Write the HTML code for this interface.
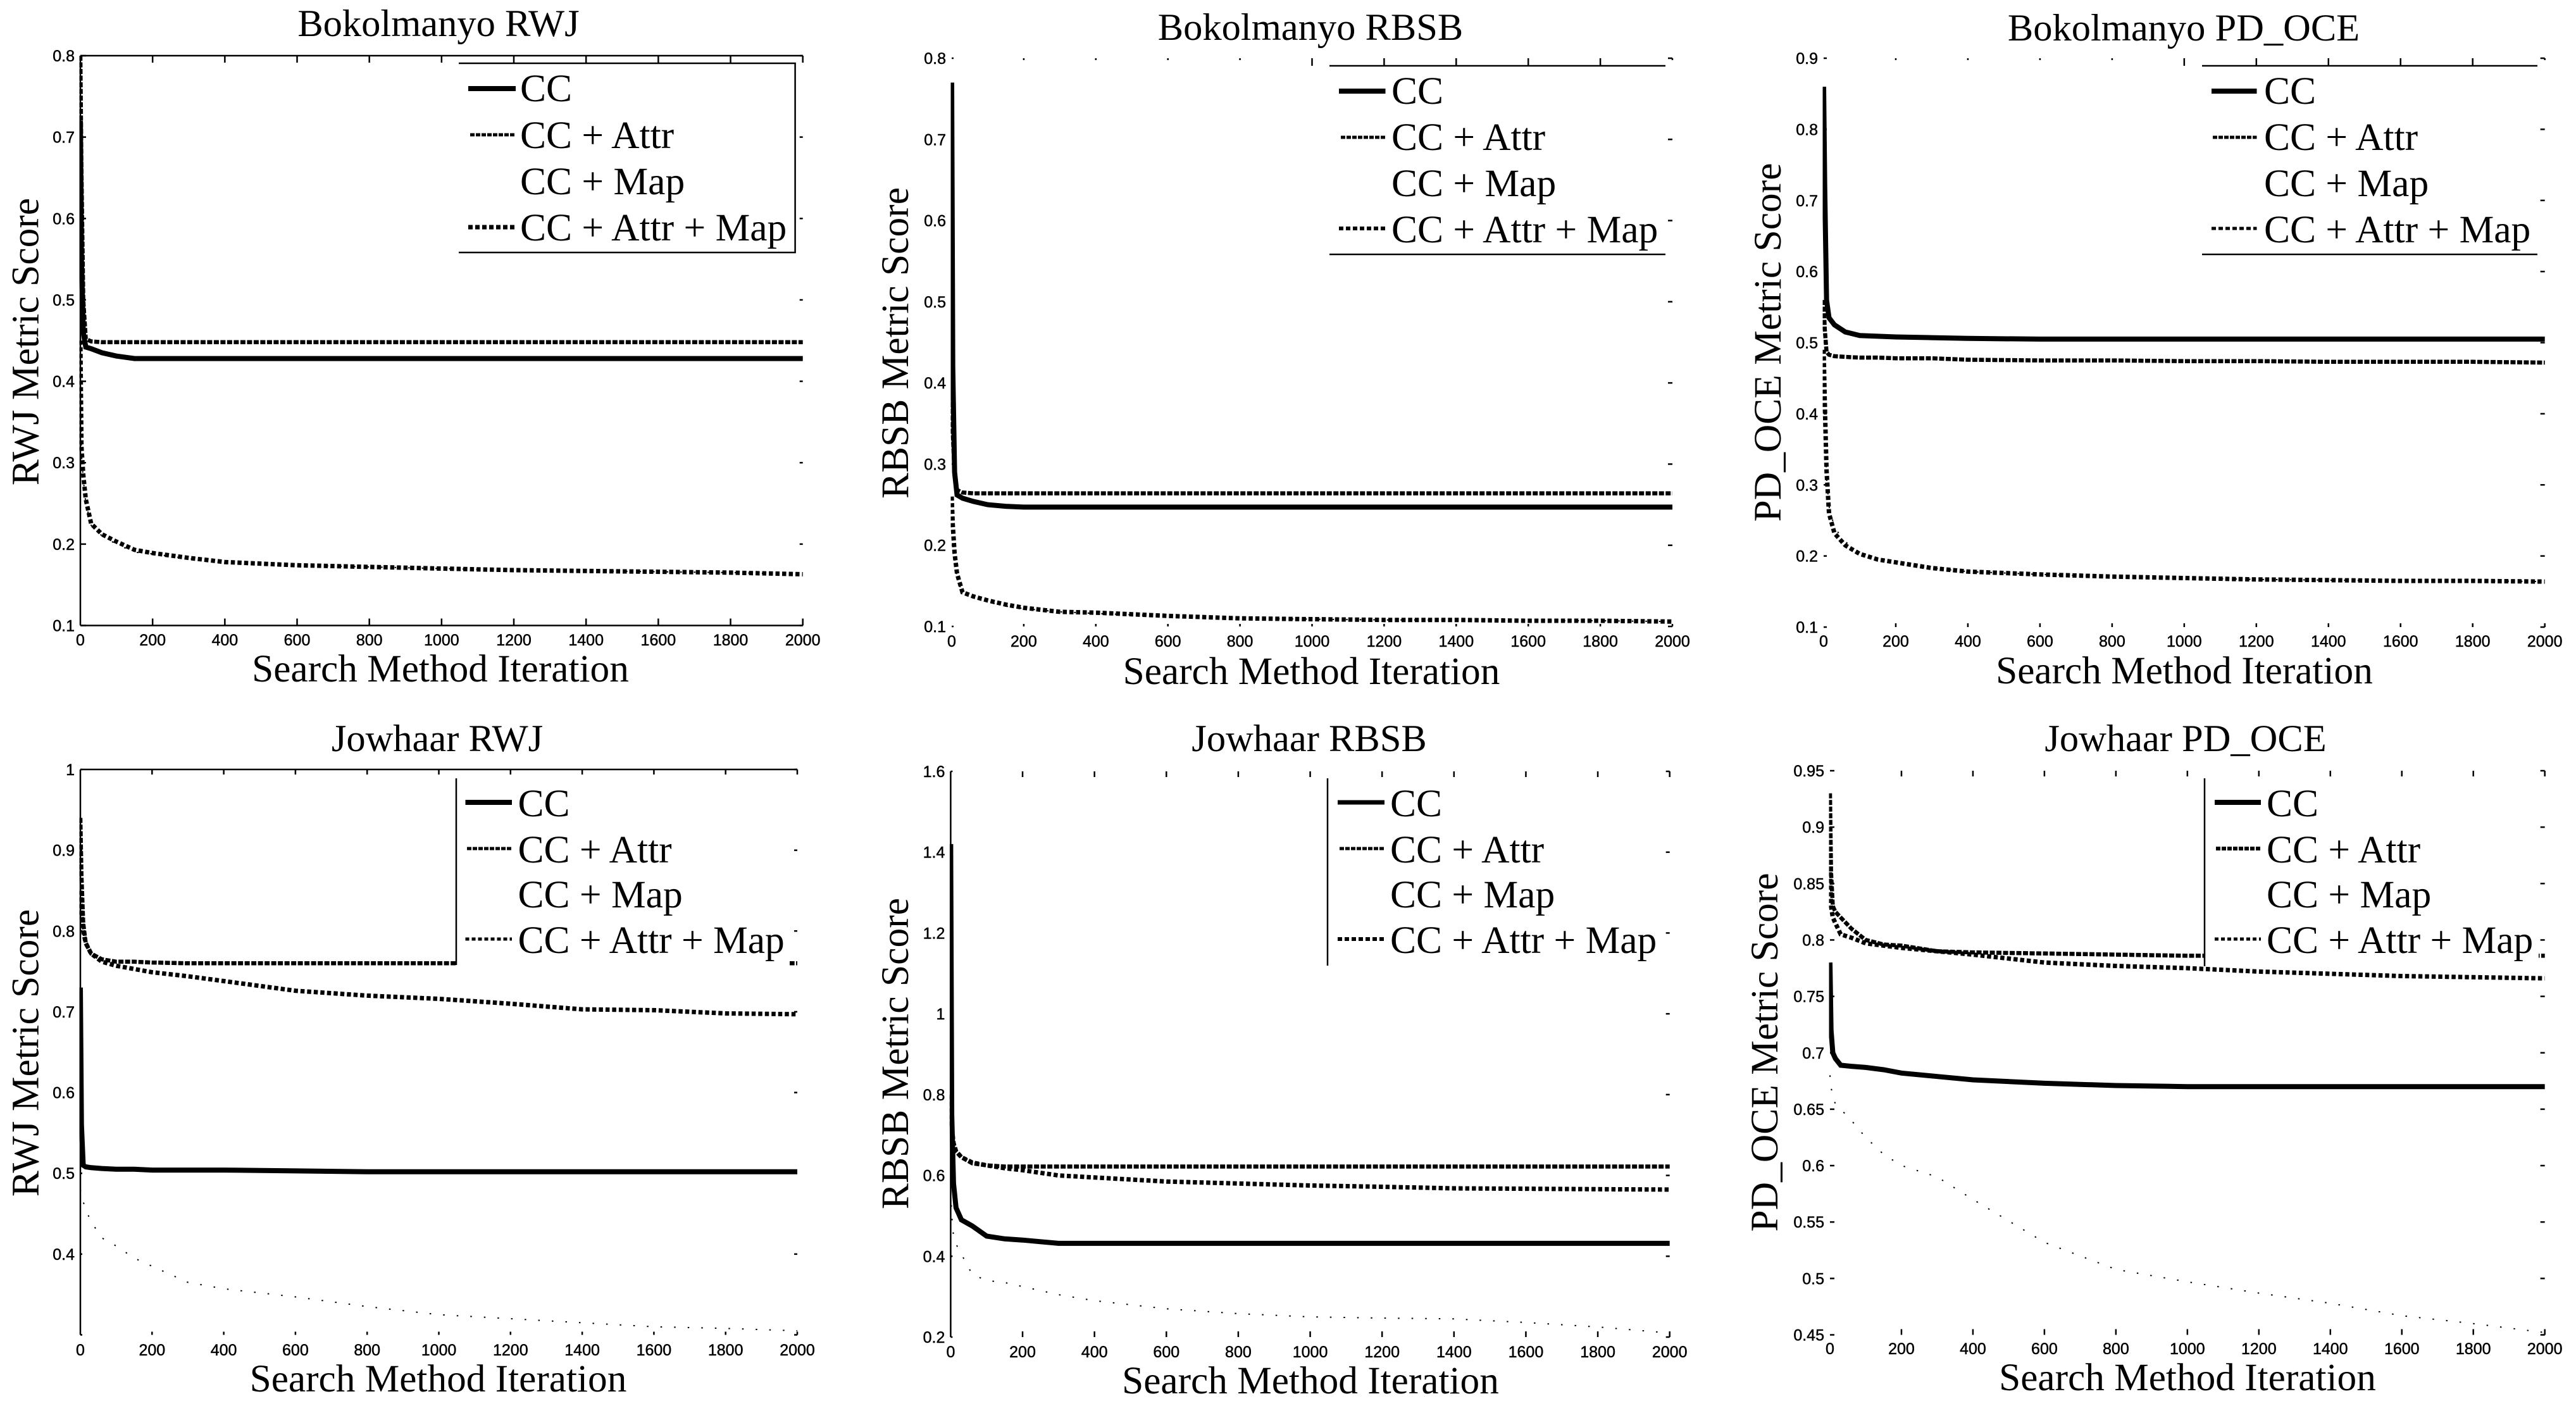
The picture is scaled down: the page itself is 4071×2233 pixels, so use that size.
<!DOCTYPE html>
<html lang="en">
<head>
<meta charset="utf-8">
<title>Search method iteration metric scores</title>
<style>
html,body{margin:0;padding:0;background:#fff;}
svg{display:block;}
.title,.axis-label,.y-label,.legend-text{font-family:"Liberation Serif",serif;fill:#000;}
.title{font-size:60.5px;text-anchor:middle;}
.axis-label{font-size:61.3px;text-anchor:middle;}
.y-label{font-size:61.5px;text-anchor:middle;}
.legend-text{font-size:61.5px;}
.tick-label{font-family:"Liberation Sans",sans-serif;font-size:25px;fill:#000;stroke:#000;stroke-width:.5px;}
</style>
</head>
<body>
<svg xmlns="http://www.w3.org/2000/svg" width="4071" height="2233" viewBox="0 0 4071 2233">
<defs id="clip-defs"></defs>
<rect x="0" y="0" width="4071" height="2233" fill="#fff"/>

<g>
  <g id="p1-plot"></g>
  <text class="title" x="693" y="57">Bokolmanyo RWJ</text>
  <text class="axis-label" x="696" y="1077">Search Method Iteration</text>
  <text class="y-label" transform="translate(60.5 540) rotate(-90)">RWJ Metric Score</text>
  <g>
    <rect x="725" y="100" width="531.6" height="299" fill="#fff"/>
    <path d="M725 100H1256.6V399H725" fill="none" stroke="#000" stroke-width="2.5"/>
    <line x1="740" x2="815" y1="140" y2="140" stroke="#000" stroke-width="8"/>
    <line x1="743" x2="815" y1="213" y2="213" stroke="#000" stroke-width="5" stroke-dasharray="7 2"/>
    <line x1="740" x2="815" y1="359" y2="359" stroke="#000" stroke-width="7" stroke-dasharray="7 4"/>
    <text class="legend-text" x="822" y="160">CC</text>
    <text class="legend-text" x="822" y="234">CC + Attr</text>
    <text class="legend-text" x="822" y="307">CC + Map</text>
    <text class="legend-text" x="822" y="380">CC + Attr + Map</text>
  </g>
</g>

<g>
  <g id="p2-plot"></g>
  <text class="title" x="2071" y="63">Bokolmanyo RBSB</text>
  <text class="axis-label" x="2072.5" y="1081">Search Method Iteration</text>
  <text class="y-label" transform="translate(1435 542) rotate(-90)">RBSB Metric Score</text>
  <g>
    <rect x="2101" y="104" width="531" height="298" fill="#fff"/>
    <path d="M2101 104H2632M2101 402H2632" fill="none" stroke="#000" stroke-width="2.5"/>
    <line x1="2116" x2="2189.5" y1="144" y2="144" stroke="#000" stroke-width="8"/>
    <line x1="2119" x2="2189.5" y1="217" y2="217" stroke="#000" stroke-width="5" stroke-dasharray="7 2"/>
    <line x1="2116" x2="2189.5" y1="361" y2="361" stroke="#000" stroke-width="6" stroke-dasharray="7 4"/>
    <text class="legend-text" x="2199" y="164">CC</text>
    <text class="legend-text" x="2199" y="237">CC + Attr</text>
    <text class="legend-text" x="2199" y="310">CC + Map</text>
    <text class="legend-text" x="2199" y="383">CC + Attr + Map</text>
  </g>
</g>

<g>
  <g id="p3-plot"></g>
  <text class="title" x="3451" y="64">Bokolmanyo PD_OCE</text>
  <text class="axis-label" x="3452" y="1080">Search Method Iteration</text>
  <text class="y-label" transform="translate(2814 541) rotate(-90)">PD_OCE Metric Score</text>
  <g>
    <rect x="3480" y="104" width="530" height="298" fill="#fff"/>
    <path d="M3480 104H4010M3480 402H4010" fill="none" stroke="#000" stroke-width="2.5"/>
    <line x1="3495" x2="3566.5" y1="144" y2="144" stroke="#000" stroke-width="8"/>
    <line x1="3497" x2="3566.5" y1="217" y2="217" stroke="#000" stroke-width="5" stroke-dasharray="7 2"/>
    <line x1="3495" x2="3566.5" y1="361" y2="361" stroke="#000" stroke-width="5" stroke-dasharray="7 4"/>
    <text class="legend-text" x="3578" y="164">CC</text>
    <text class="legend-text" x="3578" y="237">CC + Attr</text>
    <text class="legend-text" x="3578" y="310">CC + Map</text>
    <text class="legend-text" x="3578" y="383">CC + Attr + Map</text>
  </g>
</g>

<g>
  <g id="p4-plot"></g>
  <text class="title" x="691" y="1187">Jowhaar RWJ</text>
  <text class="axis-label" x="692.5" y="2199">Search Method Iteration</text>
  <text class="y-label" transform="translate(60.5 1664) rotate(-90)">RWJ Metric Score</text>
  <g>
    <rect x="721" y="1230" width="527" height="297" fill="#fff"/>
    <line x1="721" x2="721" y1="1230" y2="1525" stroke="#000" stroke-width="2.5"/>
    <line x1="735.5" x2="809" y1="1268" y2="1268" stroke="#000" stroke-width="8"/>
    <line x1="738" x2="809" y1="1341" y2="1341" stroke="#000" stroke-width="5" stroke-dasharray="7 2"/>
    <line x1="735.5" x2="809" y1="1484" y2="1484" stroke="#000" stroke-width="5" stroke-dasharray="6 4"/>
    <text class="legend-text" x="818.5" y="1290">CC</text>
    <text class="legend-text" x="818.5" y="1363">CC + Attr</text>
    <text class="legend-text" x="818.5" y="1434">CC + Map</text>
    <text class="legend-text" x="818.5" y="1506">CC + Attr + Map</text>
  </g>
</g>

<g>
  <g id="p5-plot"></g>
  <text class="title" x="2069" y="1187">Jowhaar RBSB</text>
  <text class="axis-label" x="2071" y="2202">Search Method Iteration</text>
  <text class="y-label" transform="translate(1435 1665) rotate(-90)">RBSB Metric Score</text>
  <g>
    <rect x="2098" y="1230" width="531" height="296" fill="#fff"/>
    <line x1="2098" x2="2098" y1="1230" y2="1526" stroke="#000" stroke-width="2.5"/>
    <line x1="2114" x2="2188" y1="1268" y2="1268" stroke="#000" stroke-width="7"/>
    <line x1="2117" x2="2188" y1="1341" y2="1341" stroke="#000" stroke-width="5" stroke-dasharray="7 2"/>
    <line x1="2114" x2="2188" y1="1484" y2="1484" stroke="#000" stroke-width="6" stroke-dasharray="7 4"/>
    <text class="legend-text" x="2197" y="1290">CC</text>
    <text class="legend-text" x="2197" y="1363">CC + Attr</text>
    <text class="legend-text" x="2197" y="1434">CC + Map</text>
    <text class="legend-text" x="2197" y="1506">CC + Attr + Map</text>
  </g>
</g>

<g>
  <g id="p6-plot"></g>
  <text class="title" x="3454" y="1187">Jowhaar PD_OCE</text>
  <text class="axis-label" x="3457" y="2197">Search Method Iteration</text>
  <text class="y-label" transform="translate(2809 1663) rotate(-90)">PD_OCE Metric Score</text>
  <g>
    <rect x="3484" y="1230" width="528" height="297" fill="#fff"/>
    <line x1="3484" x2="3484" y1="1230" y2="1527" stroke="#000" stroke-width="2.5"/>
    <line x1="3500" x2="3573" y1="1268" y2="1268" stroke="#000" stroke-width="8"/>
    <line x1="3502" x2="3573" y1="1341" y2="1341" stroke="#000" stroke-width="6" stroke-dasharray="7 2"/>
    <line x1="3500" x2="3573" y1="1484" y2="1484" stroke="#000" stroke-width="5" stroke-dasharray="6 4"/>
    <text class="legend-text" x="3582" y="1290">CC</text>
    <text class="legend-text" x="3582" y="1363">CC + Attr</text>
    <text class="legend-text" x="3582" y="1434">CC + Map</text>
    <text class="legend-text" x="3582" y="1506">CC + Attr + Map</text>
  </g>
</g>
</svg>

<script>
// Shared x-axis data
const iterations = [0, 3, 8, 15, 30, 60, 100, 150, 200, 300, 400, 600, 800, 1000, 1200, 1400, 1600, 1800, 2000];
const xTickLabels = ['0', '200', '400', '600', '800', '1000', '1200', '1400', '1600', '1800', '2000'];

// Bokolmanyo RWJ
const p1TickLabels = ['0.1', '0.2', '0.3', '0.4', '0.5', '0.6', '0.7', '0.8'];
const p1Cc = [.72, .55, .46, .442, .44, .435, .431, .428, .428, .428, .428, .428, .428, .428, .428, .428, .428, .428, .428];
const p1Attr = [.80, .66, .50, .452, .449, .448, .448, .448, .448, .448, .448, .448, .448, .448, .448, .448, .448, .448, .448];
const p1Map = [.44, .31, .28, .25, .223, .21, .20, .19, .188, .182, .178, .174, .172, .17, .168, .167, .166, .165, .163];
const p1AttrMap = [.45, .32, .285, .255, .225, .212, .203, .193, .189, .183, .178, .174, .172, .17, .168, .167, .166, .165, .163];

// Bokolmanyo RBSB
const p2TickLabels = ['0.1', '0.2', '0.3', '0.4', '0.5', '0.6', '0.7', '0.8'];
const p2Cc = [.77, .42, .29, .262, .258, .254, .25, .248, .247, .247, .247, .247, .247, .247, .247, .247, .247, .247, .247];
const p2Attr = [.45, .34, .285, .268, .265, .264, .264, .264, .264, .264, .264, .264, .264, .264, .264, .264, .264, .264, .264];
const p2Map = [.25, .22, .185, .16, .14, .135, .13, .125, .122, .118, .116, .113, .11, .109, .108, .108, .107, .107, .106];
const p2AttrMap = [.26, .225, .19, .165, .142, .137, .132, .127, .123, .118, .117, .113, .11, .109, .108, .108, .107, .107, .106];

// Bokolmanyo PD_OCE
const p3TickLabels = ['0.1', '0.2', '0.3', '0.4', '0.5', '0.6', '0.7', '0.8', '0.9'];
const p3Cc = [.86, .72, .56, .535, .525, .515, .51, .509, .508, .507, .506, .505, .505, .505, .505, .505, .505, .505, .505];
const p3Attr = [.56, .52, .487, .483, .481, .48, .479, .479, .478, .478, .476, .475, .475, .474, .474, .473, .473, .473, .472];
const p3Map = [.48, .41, .31, .27, .24, .22, .205, .196, .19, .183, .178, .174, .171, .169, .167, .166, .165, .165, .164];
const p3AttrMap = [.49, .42, .32, .26, .232, .215, .203, .195, .191, .183, .178, .174, .171, .169, .167, .166, .165, .165, .164];

// Jowhaar RWJ
const p4TickLabels = ['', '0.4', '0.5', '0.6', '0.7', '0.8', '0.9', '1'];
const p4Cc = [.73, .56, .51, .508, .507, .506, .505, .505, .504, .504, .504, .503, .502, .502, .502, .502, .502, .502, .502];
const p4Attr = [.94, .87, .81, .785, .772, .765, .762, .762, .761, .76, .76, .76, .76, .76, .76, .76, .76, .76, .76];
const p4Map = [.48, .47, .465, .455, .44, .42, .41, .395, .385, .365, .357, .347, .335, .325, .32, .315, .31, .308, .305];
const p4AttrMap = [.85, .82, .80, .785, .772, .762, .757, .753, .749, .744, .738, .726, .72, .716, .71, .703, .702, .698, .697];

// Jowhaar RBSB
const p5TickLabels = ['0.2', '0.4', '0.6', '0.8', '1', '1.2', '1.4', '1.6'];
const p5Cc = [1.42, .75, .58, .52, .49, .475, .45, .443, .44, .432, .432, .432, .432, .432, .432, .432, .432, .432, .432];
const p5Attr = [.80, .72, .68, .66, .645, .63, .625, .622, .622, .622, .622, .622, .622, .622, .622, .622, .622, .622, .622];
const p5Map = [.56, .50, .45, .43, .405, .355, .34, .335, .325, .305, .29, .27, .258, .25, .247, .245, .236, .225, .21];
const p5AttrMap = [.80, .72, .68, .66, .645, .632, .625, .618, .613, .60, .595, .585, .58, .575, .572, .568, .567, .566, .565];

// Jowhaar PD_OCE
const p6TickLabels = ['0.45', '0.5', '0.55', '0.6', '0.65', '0.7', '0.75', '0.8', '0.85', '0.9', '0.95'];
const p6Cc = [.78, .72, .70, .695, .689, .688, .687, .685, .682, .679, .676, .673, .671, .67, .67, .67, .67, .67, .67];
const p6Attr = [.93, .86, .83, .825, .82, .81, .80, .796, .795, .79, .789, .788, .787, .786, .786, .786, .786, .786, .786];
const p6Map = [.68, .67, .66, .655, .65, .64, .625, .61, .60, .59, .57, .532, .508, .497, .487, .478, .467, .46, .452];
const p6AttrMap = [.86, .83, .82, .815, .805, .802, .797, .795, .793, .79, .787, .78, .777, .775, .772, .77, .768, .767, .766];

const panels = [
  {id:'p1-plot', x0:127, x1:1268.7, yTop:88, yBot:988.5, yMin:.1, yMax:.8, labels:p1TickLabels, cc:p1Cc, attr:p1Attr, map:p1Map, attrMap:p1AttrMap,
   topLine:true, botLine:true, leftLine:true, topTick:11, botTick:11, rightTick:5, leftTick:9, longTopFrom:null, xLabelY:1020},
  {id:'p2-plot', x0:1504, x1:2643, yTop:92, yBot:990, yMin:.1, yMax:.8, labels:p2TickLabels, cc:p2Cc, attr:p2Attr, map:p2Map, attrMap:p2AttrMap,
   topLine:false, botLine:false, leftLine:false, topTick:3, botTick:4, rightTick:7, leftTick:3, longTopFrom:1000, xLabelY:1022},
  {id:'p3-plot', x0:2882, x1:4021.7, yTop:92, yBot:991, yMin:.1, yMax:.9, labels:p3TickLabels, cc:p3Cc, attr:p3Attr, map:p3Map, attrMap:p3AttrMap,
   topLine:false, botLine:false, leftLine:false, topTick:3, botTick:6, rightTick:7, leftTick:5, longTopFrom:1000, xLabelY:1022},
  {id:'p4-plot', x0:127, x1:1260, yTop:1216, yBot:2109.5, yMin:.3, yMax:1, labels:p4TickLabels, cc:p4Cc, attr:p4Attr, map:p4Map, attrMap:p4AttrMap,
   topLine:true, botLine:false, leftLine:true, topTick:8, botTick:5, rightTick:5, leftTick:3, longTopFrom:null, xLabelY:2142},
  {id:'p5-plot', x0:1502.4, x1:2638.7, yTop:1219, yBot:2113, yMin:.2, yMax:1.6, labels:p5TickLabels, cc:p5Cc, attr:p5Attr, map:p5Map, attrMap:p5AttrMap,
   topLine:false, botLine:false, leftLine:true, topTick:9, botTick:9, rightTick:6, leftTick:3, longTopFrom:null, xLabelY:2145},
  {id:'p6-plot', x0:2892, x1:4021.7, yTop:1218, yBot:2109.5, yMin:.45, yMax:.95, labels:p6TickLabels, cc:p6Cc, attr:p6Attr, map:p6Map, attrMap:p6AttrMap,
   topLine:false, botLine:false, leftLine:false, topTick:9, botTick:9, rightTick:7, leftTick:7, longTopFrom:null, xLabelY:2140}
];

const NS = 'http://www.w3.org/2000/svg';

function xScale(p, v) {
  return p.x0 + (v / 2000) * (p.x1 - p.x0);
}
function yScale(p, v) {
  return p.yBot - ((v - p.yMin) / (p.yMax - p.yMin)) * (p.yBot - p.yTop);
}
function tickLine(g, x1, y1, x2, y2, w) {
  const el = document.createElementNS(NS, 'line');
  
  
  el.setAttribute('x1', x1);
  el.setAttribute('y1', y1);
  el.setAttribute('x2', x2);
  el.setAttribute('y2', y2);
  el.setAttribute('stroke', '#000');
  el.setAttribute('stroke-width', w);
  g.appendChild(el);
}
function axisLine(g, x1, y1, x2, y2) {
  const el = document.createElementNS(NS, 'line');
  
  
  el.setAttribute('x1', x1);
  el.setAttribute('y1', y1);
  el.setAttribute('x2', x2);
  el.setAttribute('y2', y2);
  el.setAttribute('stroke', '#000');
  el.setAttribute('stroke-width', 2.5);
  g.appendChild(el);
}
function xTickText(g, x, y, s) {
  const el = document.createElementNS(NS, 'text');
  
  
  el.setAttribute('class', 'tick-label');
  el.setAttribute('x', x);
  el.setAttribute('y', y);
  el.setAttribute('text-anchor', 'middle');
  el.textContent = s;
  g.appendChild(el);
}
function yTickText(g, x, y, s) {
  const el = document.createElementNS(NS, 'text');
  
  
  el.setAttribute('class', 'tick-label');
  el.setAttribute('x', x);
  el.setAttribute('y', y);
  el.setAttribute('text-anchor', 'end');
  el.textContent = s;
  g.appendChild(el);
}
function seriesPoints(p, values) {
  return values.map(function (v, i) {
    return xScale(p, iterations[i]).toFixed(1) + ',' + yScale(p, v).toFixed(1);
  }).join(' ');
}
function drawMapSeries(g, p) {
  const el = document.createElementNS(NS, 'polyline');
  
  
  el.setAttribute('points', seriesPoints(p, p.map));
  el.setAttribute('fill', 'none');
  el.setAttribute('stroke', '#000');
  el.setAttribute('stroke-width', 2);
  el.setAttribute('stroke-dasharray', '2.5 19');
  g.appendChild(el);
}
function drawAttrMapSeries(g, p) {
  const el = document.createElementNS(NS, 'polyline');
  
  
  el.setAttribute('points', seriesPoints(p, p.attrMap));
  el.setAttribute('fill', 'none');
  el.setAttribute('stroke', '#000');
  el.setAttribute('stroke-width', 7);
  el.setAttribute('stroke-dasharray', '6.5 4');
  g.appendChild(el);
}
function drawAttrSeries(g, p) {
  const el = document.createElementNS(NS, 'polyline');
  
  
  el.setAttribute('points', seriesPoints(p, p.attr));
  el.setAttribute('fill', 'none');
  el.setAttribute('stroke', '#000');
  el.setAttribute('stroke-width', 6.5);
  el.setAttribute('stroke-dasharray', '8 2.5');
  g.appendChild(el);
}
function drawCcSeries(g, p) {
  const el = document.createElementNS(NS, 'polyline');
  
  
  el.setAttribute('points', seriesPoints(p, p.cc));
  el.setAttribute('fill', 'none');
  el.setAttribute('stroke', '#000');
  el.setAttribute('stroke-width', 8);
  g.appendChild(el);
}
function makeClip(p) {
  const clip = document.createElementNS(NS, 'clipPath');
  clip.setAttribute('id', p.id + '-clip');
  const r = document.createElementNS(NS, 'rect');
  r.setAttribute('x', p.x0 - 1.5);
  r.setAttribute('y', p.yTop - 2);
  r.setAttribute('width', p.x1 - p.x0 + 3);
  r.setAttribute('height', p.yBot - p.yTop + 4);
  clip.appendChild(r);
  document.getElementById('clip-defs').appendChild(clip);
}
function seriesGroup(g, p) {
  const el = document.createElementNS(NS, 'g');
  
  
  el.setAttribute('clip-path', 'url(#' + p.id + '-clip)');
  g.appendChild(el);
  return el;
}

panels.forEach(function (p) {
  const g = document.getElementById(p.id);
  makeClip(p);
  if (p.topLine) axisLine(g, p.x0, p.yTop, p.x1, p.yTop);
  if (p.botLine) axisLine(g, p.x0, p.yBot, p.x1, p.yBot);
  if (p.leftLine) axisLine(g, p.x0, p.yTop, p.x0, p.yBot);

  xTickLabels.forEach(function (s) {
    const v = parseFloat(s);
    const x = xScale(p, v);
    if (v > 0) {
      const longTop = p.longTopFrom !== null && v >= p.longTopFrom && v < 2000;
      tickLine(g, x, p.yTop, x, p.yTop + (longTop ? 12 : p.topTick), 2.5);
      tickLine(g, x, p.yBot, x, p.yBot - p.botTick, 2.5);
    }
    xTickText(g, x, p.xLabelY, s);
  });

  const step = (p.yMax - p.yMin) / (p.labels.length - 1);
  p.labels.forEach(function (s, i) {
    const y = yScale(p, p.yMin + step * i);
    tickLine(g, p.x0, y, p.x0 + p.leftTick, y, 2.5);
    tickLine(g, p.x1, y, p.x1 - p.rightTick, y, 2.5);
    if (s) yTickText(g, p.x0 - 9, y + 9, s);
  });

  const sg = seriesGroup(g, p);
  drawMapSeries(sg, p);
  drawAttrMapSeries(sg, p);
  drawAttrSeries(sg, p);
  drawCcSeries(sg, p);
});
</script>
</body>
</html>
